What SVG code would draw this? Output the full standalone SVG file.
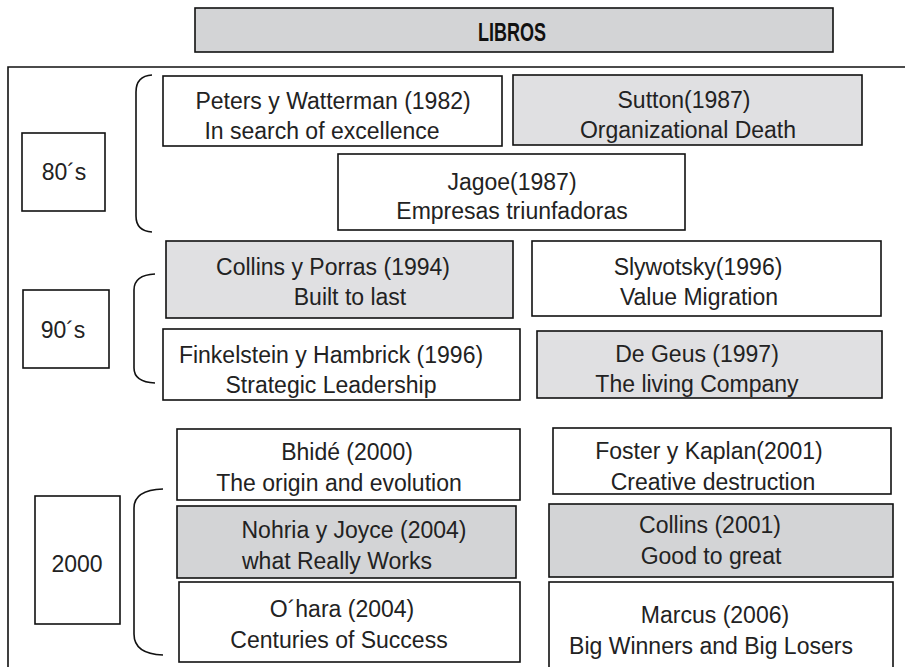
<svg xmlns="http://www.w3.org/2000/svg" width="905" height="667" viewBox="0 0 905 667">
<defs>
<style>
.box{stroke:#111;stroke-width:1.6;fill:#fff}
.g1{fill:#e0e0e2}
.g2{fill:#d3d4d6}
.t{font-family:"Liberation Sans","DejaVu Sans",sans-serif;font-size:23px;fill:#222;text-anchor:middle}
.br{fill:none;stroke:#111;stroke-width:1.6}
</style>
</defs>
<rect width="905" height="667" fill="#fff"/>
<g id="header">
<rect class="box g2" x="195" y="8" width="638" height="44"/>
<text transform="translate(512,41) scale(0.72,1)" style="font-family:'Liberation Sans',sans-serif;font-weight:bold;font-size:25px;text-anchor:middle;fill:#111">LIBROS</text>
</g>
<g id="frame">
<path class="br" d="M8,667 V67 H905"/>
</g>
<g id="connectors">
<path class="br" d="M152,75 Q136,76 136,92 V216 Q136,231 152,232"/>
<path class="br" d="M155,274 Q134,275 134,290 V368 Q134,382 155,383"/>
<path class="br" d="M163,489 Q134,490 134,508 V634 Q134,654 163,655"/>
</g>
<g id="p80">
<rect class="box" x="22" y="133" width="83" height="78"/>
<text class="t" x="64" y="180">80´s</text>
</g>
<g id="peters">
<rect class="box" x="163" y="76" width="339" height="70"/>
<text class="t" x="333" y="109">Peters y Watterman (1982)</text>
<text class="t" x="322" y="139">In search of excellence</text>
</g>
<g id="sutton">
<rect class="box g1" x="513" y="75" width="349" height="70"/>
<text class="t" x="684" y="108">Sutton(1987)</text>
<text class="t" x="688" y="138">Organizational Death</text>
</g>
<g id="jagoe">
<rect class="box" x="338" y="154" width="347" height="76"/>
<text class="t" x="512" y="190">Jagoe(1987)</text>
<text class="t" x="512" y="219">Empresas triunfadoras</text>
</g>
<g id="p90">
<rect class="box" x="23" y="290" width="86" height="78"/>
<text class="t" x="63" y="338">90´s</text>
</g>
<g id="collinsporras">
<rect class="box g1" x="166" y="241" width="347" height="77"/>
<text class="t" x="333" y="275">Collins y Porras (1994)</text>
<text class="t" x="350" y="305">Built to last</text>
</g>
<g id="slywotsky">
<rect class="box" x="532" y="241" width="349" height="75"/>
<text class="t" x="698" y="275">Slywotsky(1996)</text>
<text class="t" x="699" y="305">Value Migration</text>
</g>
<g id="finkelstein">
<rect class="box" x="163" y="329" width="357" height="71"/>
<text class="t" x="331" y="363">Finkelstein y Hambrick (1996)</text>
<text class="t" x="331" y="393">Strategic Leadership</text>
</g>
<g id="degeus">
<rect class="box g1" x="537" y="331" width="345" height="67"/>
<text class="t" x="697" y="362">De Geus (1997)</text>
<text class="t" x="697" y="392">The living Company</text>
</g>
<g id="p2000">
<rect class="box" x="35" y="496" width="85" height="128"/>
<text class="t" x="77" y="572">2000</text>
</g>
<g id="bhide">
<rect class="box" x="177" y="429" width="343" height="71"/>
<text class="t" x="347" y="460">Bhidé (2000)</text>
<text class="t" x="339" y="491">The origin and evolution</text>
</g>
<g id="nohria">
<rect class="box g2" x="177" y="506" width="339" height="72"/>
<text class="t" x="354" y="538">Nohria y Joyce (2004)</text>
<text class="t" x="337" y="569">what Really Works</text>
</g>
<g id="ohara">
<rect class="box" x="179" y="582" width="341" height="80"/>
<text class="t" x="342" y="617">O´hara (2004)</text>
<text class="t" x="339" y="648">Centuries of Success</text>
</g>
<g id="foster">
<rect class="box" x="553" y="428" width="338" height="66"/>
<text class="t" x="709" y="459">Foster y Kaplan(2001)</text>
<text class="t" x="713" y="490">Creative destruction</text>
</g>
<g id="collins2001">
<rect class="box g2" x="549" y="504" width="344" height="73"/>
<text class="t" x="710" y="533">Collins (2001)</text>
<text class="t" x="711" y="564">Good to great</text>
</g>
<g id="marcus">
<rect class="box" x="549" y="582" width="344" height="90"/>
<text class="t" x="715" y="623">Marcus (2006)</text>
<text class="t" x="711" y="654">Big Winners and Big Losers</text>
</g>
</svg>
